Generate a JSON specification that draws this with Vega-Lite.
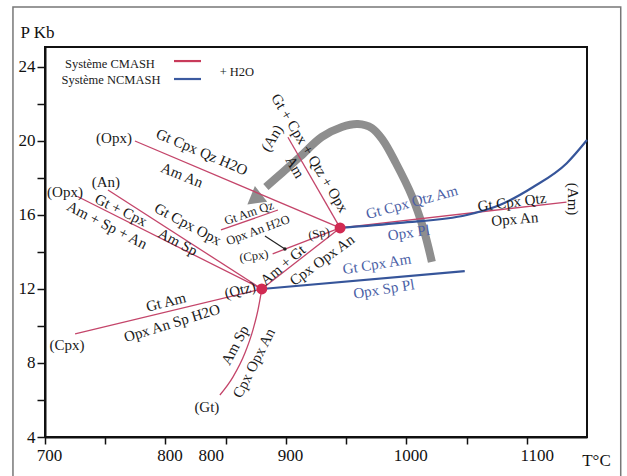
{
  "$schema": "https://vega.github.io/schema/vega-lite/v6.json",
  "width": 542,
  "height": 390,
  "autosize": {"type": "none"},
  "padding": {"left": 45, "top": 47, "right": 40, "bottom": 39},
  "background": "white",
  "config": {
    "view": {"stroke": "#111", "strokeWidth": 2},
    "font": "Liberation Serif",
    "axis": {"grid": false, "domainColor": "#111", "domainWidth": 2, "tickColor": "#111", "tickWidth": 1.5, "labelColor": "#111", "labelFont": "Liberation Serif", "labelFontSize": 17, "titleFont": "Liberation Serif", "titleFontSize": 17, "titleFontWeight": "normal", "titleColor": "#111", "labelOverlap": false, "labelFlush": false}
  },
  "datasets": {
    "frame": [{"T": 673.4, "T2": 1178, "P": 27.24, "P2": 1.0}],
    "path": [
      {"i": 1, "T": 1021.2, "P": 13.46},
      {"i": 2, "T": 1014.5, "P": 15.19},
      {"i": 3, "T": 1004.6, "P": 17.03},
      {"i": 4, "T": 991.3, "P": 18.81},
      {"i": 5, "T": 980.5, "P": 20.05},
      {"i": 6, "T": 971.4, "P": 20.7},
      {"i": 7, "T": 959.8, "P": 20.92},
      {"i": 8, "T": 946.5, "P": 20.76},
      {"i": 9, "T": 929.9, "P": 20.22},
      {"i": 10, "T": 911.6, "P": 19.14},
      {"i": 11, "T": 896.7, "P": 18.27},
      {"i": 12, "T": 883.4, "P": 17.51}
    ],
    "arrowhead": [{"T": 875.6, "P": 16.95}],
    "lines": [
      {"line": "L1", "sys": "CMASH", "i": 1, "T": 774.7, "P": 20.0},
      {"line": "L1", "sys": "CMASH", "i": 2, "T": 945, "P": 15.3},
      {"line": "L2", "sys": "CMASH", "i": 1, "T": 945, "P": 15.3},
      {"line": "L2", "sys": "CMASH", "i": 2, "T": 1133, "P": 16.7},
      {"line": "L3", "sys": "CMASH", "i": 1, "T": 901.7, "P": 20.2},
      {"line": "L3", "sys": "CMASH", "i": 2, "T": 945, "P": 15.3},
      {"line": "L4", "sys": "CMASH", "i": 1, "T": 880, "P": 12},
      {"line": "L4", "sys": "CMASH", "i": 2, "T": 945, "P": 15.3},
      {"line": "L5", "sys": "CMASH", "i": 1, "T": 889, "P": 13.9},
      {"line": "L5", "sys": "CMASH", "i": 2, "T": 945, "P": 15.3},
      {"line": "L6", "sys": "CMASH", "i": 1, "T": 727, "P": 17.0},
      {"line": "L6", "sys": "CMASH", "i": 2, "T": 880, "P": 12},
      {"line": "L7", "sys": "CMASH", "i": 1, "T": 752.3, "P": 17.35},
      {"line": "L7", "sys": "CMASH", "i": 2, "T": 880, "P": 12},
      {"line": "L8", "sys": "CMASH", "i": 1, "T": 725, "P": 9.57},
      {"line": "L8", "sys": "CMASH", "i": 2, "T": 880, "P": 12},
      {"line": "L9", "sys": "CMASH", "i": 1, "T": 845.2, "P": 6.27},
      {"line": "L9", "sys": "CMASH", "i": 2, "T": 856.0, "P": 7.24},
      {"line": "L9", "sys": "CMASH", "i": 3, "T": 866.0, "P": 8.54},
      {"line": "L9", "sys": "CMASH", "i": 4, "T": 872.6, "P": 9.78},
      {"line": "L9", "sys": "CMASH", "i": 5, "T": 876.8, "P": 10.86},
      {"line": "L9", "sys": "CMASH", "i": 6, "T": 880, "P": 12},
      {"line": "L10", "sys": "CMASH", "i": 1, "T": 846.1, "P": 15.19},
      {"line": "L10", "sys": "CMASH", "i": 2, "T": 893.4, "P": 16.27},
      {"line": "B1", "sys": "NCMASH", "i": 1, "T": 880, "P": 12},
      {"line": "B1", "sys": "NCMASH", "i": 2, "T": 1048.5, "P": 12.97},
      {"line": "B2", "sys": "NCMASH", "i": 1, "T": 945, "P": 15.3},
      {"line": "B2", "sys": "NCMASH", "i": 2, "T": 994.6, "P": 15.57},
      {"line": "B2", "sys": "NCMASH", "i": 3, "T": 1050.2, "P": 16.0},
      {"line": "B2", "sys": "NCMASH", "i": 4, "T": 1077.6, "P": 16.54},
      {"line": "B2", "sys": "NCMASH", "i": 5, "T": 1105, "P": 17.5},
      {"line": "B2", "sys": "NCMASH", "i": 6, "T": 1133.2, "P": 18.8},
      {"line": "B2", "sys": "NCMASH", "i": 7, "T": 1150, "P": 20.05},
      {"line": "K1", "sys": "key CMASH", "i": 1, "T": 807.1, "P": 24.32},
      {"line": "K1", "sys": "key CMASH", "i": 2, "T": 829.5, "P": 24.32},
      {"line": "K2", "sys": "key NCMASH", "i": 1, "T": 807.1, "P": 23.35},
      {"line": "K2", "sys": "key NCMASH", "i": 2, "T": 829.5, "P": 23.35},
      {"line": "A1", "sys": "pointer", "i": 1, "T": 882.6, "P": 14.86},
      {"line": "A1", "sys": "pointer", "i": 2, "T": 899.2, "P": 14.16}
    ],
    "points": [
      {"name": "Qtz", "kind": "invariant", "T": 880, "P": 12},
      {"name": "Sp", "kind": "invariant", "T": 945, "P": 15.3},
      {"name": "pointer", "kind": "pointer", "T": 899.2, "P": 14.16}
    ],
    "labels": [
      {"text": "Gt Cpx Qz H2O", "grp": "main", "T": 830.3, "P": 19.41, "rot": 23},
      {"text": "Am An", "grp": "main", "T": 813.7, "P": 18.16, "rot": 22},
      {"text": "(Opx)", "grp": "main", "T": 757.3, "P": 20.16, "rot": 0},
      {"text": "(Opx)", "grp": "main", "T": 716.6, "P": 17.24, "rot": 0},
      {"text": "(An)", "grp": "main", "T": 750.6, "P": 17.78, "rot": 0},
      {"text": "Gt + Cpx", "grp": "main", "T": 763.1, "P": 16.27, "rot": 26},
      {"text": "Am + Sp + An", "grp": "main", "T": 751.5, "P": 15.46, "rot": 27},
      {"text": "Gt Cpx Opx", "grp": "main", "T": 818.7, "P": 15.51, "rot": 28},
      {"text": "Am Sp", "grp": "main", "T": 810.4, "P": 14.54, "rot": 28},
      {"text": "(Cpx)", "grp": "main", "T": 718.3, "P": 8.97, "rot": 0},
      {"text": "Gt Am", "grp": "main", "T": 800.4, "P": 11.3, "rot": -14},
      {"text": "Opx An Sp H2O", "grp": "main", "T": 805.4, "P": 10.16, "rot": -17},
      {"text": "(Gt)", "grp": "main", "T": 834.4, "P": 5.62, "rot": 0},
      {"text": "Am Sp", "grp": "main", "T": 857.7, "P": 8.97, "rot": -62},
      {"text": "Cpx Opx An", "grp": "main", "T": 873.4, "P": 8.0, "rot": -63},
      {"text": "(Qtz)", "grp": "main", "T": 861.8, "P": 11.95, "rot": -15},
      {"text": "Am + Gt", "grp": "main", "T": 897.5, "P": 13.3, "rot": -40},
      {"text": "Cpx Opx An", "grp": "main", "T": 929.9, "P": 13.57, "rot": -36},
      {"text": "Gt + Cpx + Qtz + Opx", "grp": "main", "T": 919.9, "P": 19.35, "rot": 59},
      {"text": "Am", "grp": "main", "T": 907.5, "P": 18.59, "rot": 60},
      {"text": "(An)", "grp": "main", "T": 888.4, "P": 20.16, "rot": -58},
      {"text": "Gt Cpx Qtz", "grp": "main", "T": 1087.6, "P": 16.7, "rot": -7},
      {"text": "Opx An", "grp": "main", "T": 1090, "P": 15.78, "rot": -5},
      {"text": "(Am)", "grp": "main", "T": 1138.2, "P": 16.86, "rot": 90},
      {"text": "Gt Am Qz", "grp": "small", "T": 869.3, "P": 16.11, "rot": -19},
      {"text": "Opx An H2O", "grp": "small", "T": 876.8, "P": 15.19, "rot": -20},
      {"text": "(Cpx)", "grp": "small", "T": 873.4, "P": 13.78, "rot": -8},
      {"text": "(Sp)", "grp": "small", "T": 927.4, "P": 15.0, "rot": -12},
      {"text": "Gt Cpx Qtz Am", "grp": "blue", "T": 1004.6, "P": 16.7, "rot": -15},
      {"text": "Opx Pl", "grp": "blue", "T": 1002, "P": 15.05, "rot": -8},
      {"text": "Gt Cpx Am", "grp": "blue", "T": 975.5, "P": 13.35, "rot": -9},
      {"text": "Opx Sp Pl", "grp": "blue", "T": 981.3, "P": 12.0, "rot": -9},
      {"text": "Système CMASH", "grp": "legend", "T": 753.9, "P": 24.16, "rot": 0},
      {"text": "Système NCMASH", "grp": "legend", "T": 754.8, "P": 23.3, "rot": 0},
      {"text": "+ H2O", "grp": "legend", "T": 859.3, "P": 23.73, "rot": 0}
    ]
  },
  "encoding": {
    "x": {
      "field": "T", "type": "quantitative",
      "scale": {"domain": [700, 1150], "nice": false, "zero": false},
      "axis": {
        "values": [700, 750, 800, 850, 900, 950, 1000, 1050, 1100],
        "labelExpr": "datum.value == 850 ? '800' : (datum.value % 100 == 0 ? '' + datum.value : '')",
        "labelOffset": {"condition": [{"test": "datum.value == 850", "value": -15}, {"test": "datum.value == 1100", "value": 10}], "value": 4},
        "tickSize": 7, "labelPadding": 3,
        "title": "T°C", "titleX": 551, "titleY": 23, "titleAlign": "center", "titleBaseline": "middle"
      }
    },
    "y": {
      "field": "P", "type": "quantitative",
      "scale": {"domain": [4, 25.08], "nice": false, "zero": false},
      "axis": {
        "values": [4, 6, 8, 10, 12, 14, 16, 18, 20, 22, 24],
        "labelExpr": "datum.value % 4 == 0 ? '' + datum.value : ''",
        "tickSize": 8, "labelPadding": 2,
        "title": "P Kb", "titleAngle": 0, "titleX": -8, "titleY": -15, "titleAlign": "center", "titleBaseline": "middle"
      }
    }
  },
  "layer": [
    {
      "data": {"name": "frame"},
      "mark": {"type": "rect", "fill": "transparent", "stroke": "#777", "strokeWidth": 1.5, "clip": false},
      "encoding": {"x2": {"field": "T2"}, "y2": {"field": "P2"}}
    },
    {
      "data": {"name": "path"},
      "mark": {"type": "line", "color": "#8e8e8e", "strokeWidth": 8, "interpolate": "catmull-rom", "strokeCap": "butt"},
      "encoding": {"order": {"field": "i", "type": "quantitative"}}
    },
    {
      "data": {"name": "arrowhead"},
      "mark": {"type": "point", "shape": "triangle", "angle": 232, "size": 400, "filled": true, "color": "#8e8e8e", "opacity": 1},
      "encoding": {}
    },
    {
      "data": {"name": "lines"},
      "transform": [{"filter": "datum.sys == 'CMASH'"}],
      "mark": {"type": "line", "color": "#c4456a", "strokeWidth": 1.3, "interpolate": "monotone"},
      "encoding": {"detail": {"field": "line"}, "order": {"field": "i", "type": "quantitative"}}
    },
    {
      "data": {"name": "lines"},
      "transform": [{"filter": "datum.sys == 'NCMASH'"}],
      "mark": {"type": "line", "color": "#36559a", "strokeWidth": 2.2, "interpolate": "monotone"},
      "encoding": {"detail": {"field": "line"}, "order": {"field": "i", "type": "quantitative"}}
    },
    {
      "data": {"name": "lines"},
      "transform": [{"filter": "datum.sys == 'key CMASH' || datum.sys == 'key NCMASH'"}],
      "mark": {"type": "line", "strokeWidth": 2.2},
      "encoding": {
        "detail": {"field": "line"},
        "order": {"field": "i", "type": "quantitative"},
        "color": {"field": "sys", "type": "nominal", "scale": {"domain": ["key CMASH", "key NCMASH"], "range": ["#c83a5a", "#3b5aa0"]}, "legend": null}
      }
    },
    {
      "data": {"name": "lines"},
      "transform": [{"filter": "datum.sys == 'pointer'"}],
      "mark": {"type": "line", "color": "#222", "strokeWidth": 1.2},
      "encoding": {"detail": {"field": "line"}, "order": {"field": "i", "type": "quantitative"}}
    },
    {
      "data": {"name": "points"},
      "transform": [{"filter": "datum.kind == 'invariant'"}],
      "mark": {"type": "circle", "size": 120, "color": "#d12a52", "opacity": 1},
      "encoding": {}
    },
    {
      "data": {"name": "points"},
      "transform": [{"filter": "datum.kind == 'pointer'"}],
      "mark": {"type": "circle", "size": 12, "color": "#222", "opacity": 1},
      "encoding": {}
    },
    {
      "data": {"name": "labels"},
      "transform": [{"filter": "datum.grp == 'main'"}],
      "mark": {"type": "text", "font": "Liberation Serif", "fontSize": 15, "color": "#1a1a1a", "align": "center", "baseline": "middle"},
      "encoding": {"text": {"field": "text"}, "angle": {"field": "rot", "type": "quantitative", "scale": null}}
    },
    {
      "data": {"name": "labels"},
      "transform": [{"filter": "datum.grp == 'small'"}],
      "mark": {"type": "text", "font": "Liberation Serif", "fontSize": 12.5, "color": "#1a1a1a", "align": "center", "baseline": "middle"},
      "encoding": {"text": {"field": "text"}, "angle": {"field": "rot", "type": "quantitative", "scale": null}}
    },
    {
      "data": {"name": "labels"},
      "transform": [{"filter": "datum.grp == 'blue'"}],
      "mark": {"type": "text", "font": "Liberation Serif", "fontSize": 15, "color": "#4b5fa6", "align": "center", "baseline": "middle"},
      "encoding": {"text": {"field": "text"}, "angle": {"field": "rot", "type": "quantitative", "scale": null}}
    },
    {
      "data": {"name": "labels"},
      "transform": [{"filter": "datum.grp == 'legend'"}],
      "mark": {"type": "text", "font": "Liberation Serif", "fontSize": 12.5, "color": "#1a1a1a", "align": "center", "baseline": "middle"},
      "encoding": {"text": {"field": "text"}}
    }
  ]
}
